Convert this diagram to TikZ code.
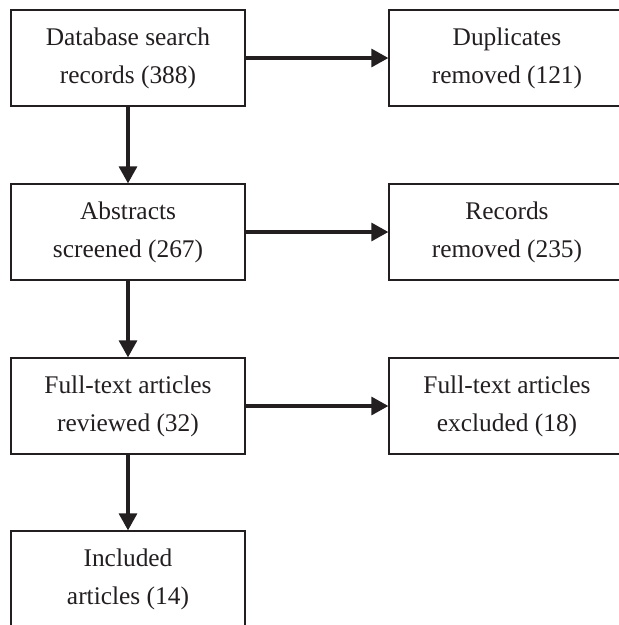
\documentclass[tikz,border=0pt]{standalone}
\usepackage{fontspec}
\setmainfont{Liberation Serif}
\usetikzlibrary{arrows.meta}
\definecolor{ink}{RGB}{35,31,32}
\begin{document}
\begin{tikzpicture}[x=1pt,y=-1pt,
  box/.style={draw=ink, line width=1.3pt, minimum width=234pt, minimum height=96pt,
    inner sep=0pt, align=center, text=ink, font=\fontsize{25.4}{38}\selectfont},
  rbox/.style={box, minimum width=236pt},
  flow/.style={draw=ink, line width=3.2pt, -{Triangle[length=17pt,width=18pt]}}]
\clip (0,0) rectangle (619,625);
\fill[white] (0,0) rectangle (619,625);
\node[box] (a) at (128,58) {Database search\\records (388)};
\node[box] (b) at (128,232) {Abstracts\\screened (267)};
\node[box] (c) at (128,406) {Full-text articles\\reviewed (32)};
\node[box] (d) at (128,579) {Included\\articles (14)};
\node[rbox] (ra) at (507,58) {Duplicates\\removed (121)};
\node[rbox] (rb) at (507,232) {Records\\removed (235)};
\node[rbox] (rc) at (507,406) {Full-text articles\\excluded (18)};
\draw[flow] (a) -- (b);
\draw[flow] (b) -- (c);
\draw[flow] (c) -- (d);
\draw[flow] (a) -- (ra);
\draw[flow] (b) -- (rb);
\draw[flow] (c) -- (rc);
\end{tikzpicture}
\end{document}
